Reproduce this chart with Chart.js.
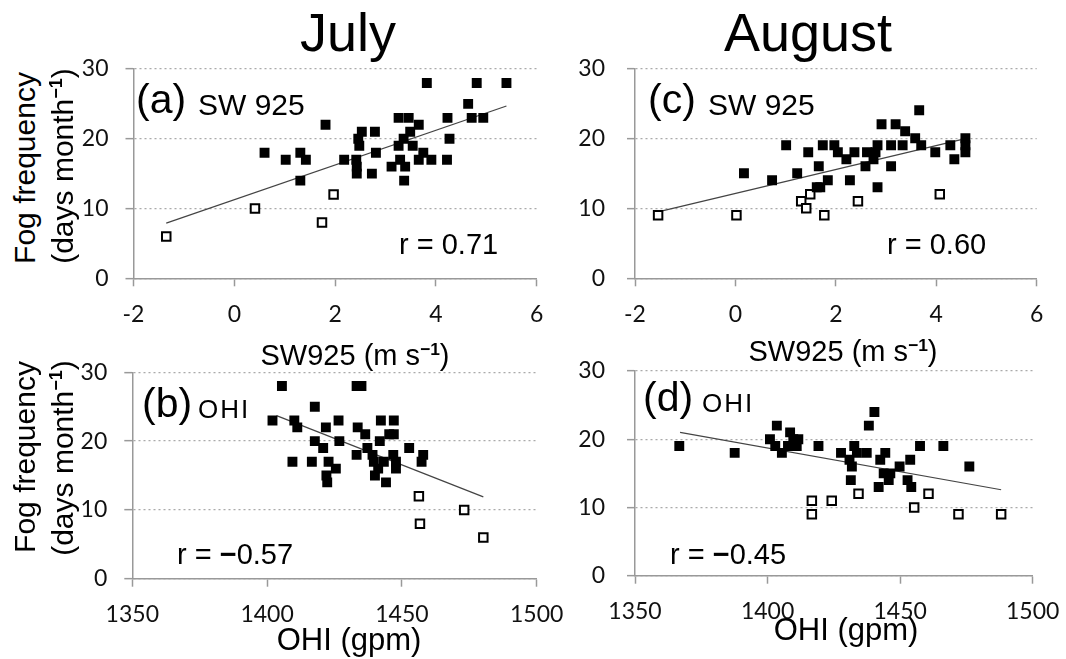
<!DOCTYPE html>
<html>
<head>
<meta charset="utf-8">
<script src="https://cdn.jsdelivr.net/npm/chart.js@4.4.1/dist/chart.umd.min.js"></script>
<style>
    html, body { margin: 0; padding: 0; background: #fff; }
    #page { position: relative; width: 1066px; height: 659px; overflow: hidden; font-family: "Liberation Sans", Arial, sans-serif; color: #000; }
    canvas { position: absolute; }
    .t { position: absolute; white-space: nowrap; line-height: 1; }
    .rot { position: absolute; white-space: nowrap; line-height: 1; transform: translate(-50%, -50%) rotate(-90deg); }
    sup { font-size: 0.6em; line-height: 0; vertical-align: 0.6em; font-weight: bold; }
</style>
</head>
<body>
<div id="page"></div>
<script>
// (a) July, SW925 vs fog days
const aFilledX = [3.82, 4.81, 5.40, 4.64, 4.71, 4.94, 4.23, 4.27, 4.22, 1.81, 0.60, 1.02, 1.31, 1.42, 1.31, 2.18, 2.42, 2.46, 2.53, 2.48, 2.43, 2.43, 2.79, 2.81, 2.73, 3.26, 3.46, 3.66, 3.49, 3.36, 3.26, 3.54, 3.29, 3.12, 3.39, 3.37, 3.66, 3.75, 3.91];
const aFilledY = [28, 28, 28, 25, 23, 23, 23, 20, 17, 22, 18, 17, 18, 17, 14, 17, 17, 20, 21, 19, 16, 15, 21, 18, 15, 23, 23, 22, 21, 20, 19, 19, 17, 16, 16, 14, 17, 18, 17];
const aOpenX = [-1.35, 0.41, 1.74, 1.97];
const aOpenY = [6, 10, 8, 12];
const aTrendX = [-1.35, 5.40];
const aTrendY = [7.9, 24.7];

// (c) August, SW925 vs fog days
const cFilledX = [0.17, 0.73, 1.01, 1.23, 1.45, 1.66, 1.74, 1.62, 1.69, 1.84, 1.97, 2.04, 2.21, 2.37, 2.28, 2.59, 2.62, 2.75, 2.79, 2.83, 2.83, 2.91, 3.10, 3.10, 3.19, 3.33, 3.38, 3.58, 3.66, 3.70, 3.98, 4.28, 4.36, 4.58, 4.58, 4.58];
const cFilledY = [15, 14, 19, 15, 18, 16, 19, 13, 13, 14, 19, 18, 17, 18, 14, 16, 18, 17, 18, 19, 13, 22, 19, 16, 22, 19, 21, 20, 24, 19, 18, 19, 17, 20, 19, 18];
const cOpenX = [-1.54, 0.02, 1.31, 1.41, 1.49, 1.77, 2.44, 4.07];
const cOpenY = [9, 9, 11, 10, 12, 9, 11, 12];
const cTrendX = [-1.54, 4.60];
const cTrendY = [9.5, 20.0];

// (b) July, OHI vs fog days
const bFilledX = [1402.0, 1405.5, 1410.1, 1411.2, 1409.4, 1417.7, 1416.6, 1417.7, 1420.8, 1421.8, 1422.8, 1425.5, 1422.0, 1422.3, 1426.5, 1426.8, 1433.2, 1435.0, 1433.6, 1436.4, 1433.2, 1437.2, 1439.1, 1439.6, 1441.2, 1440.0, 1441.8, 1442.2, 1444.1, 1443.3, 1445.3, 1447.0, 1447.0, 1446.8, 1447.8, 1447.8, 1452.7, 1457.3, 1457.9];
const bFilledY = [23, 28, 23, 22, 17, 25, 17, 20, 19, 22, 17, 16, 15, 14, 23, 20, 28, 28, 22, 21, 18, 19, 18, 17, 16, 15, 20, 23, 14, 17, 21, 23, 21, 18, 16, 17, 19, 17, 18];
const bOpenX = [1456.3, 1456.7, 1473.1, 1480.2];
const bOpenY = [12, 8, 10, 6];
const bTrendX = [1403.5, 1480.2];
const bTrendY = [23.7, 11.9];

// (d) August, OHI vs fog days
const dFilledX = [1366.7, 1387.6, 1400.9, 1403.5, 1402.9, 1405.4, 1408.5, 1409.7, 1411.6, 1411.0, 1407.7, 1419.2, 1427.7, 1430.9, 1431.8, 1431.4, 1432.7, 1433.7, 1437.4, 1438.2, 1440.3, 1441.9, 1442.5, 1444.4, 1443.8, 1445.7, 1446.3, 1449.8, 1452.8, 1453.8, 1454.2, 1457.5, 1466.3, 1476.1];
const dFilledY = [19, 18, 20, 22, 19, 18, 21, 20, 20, 19, 19, 19, 18, 17, 16, 14, 19, 18, 18, 22, 24, 13, 17, 18, 15, 14, 15, 16, 14, 17, 13, 19, 19, 16];
const dOpenX = [1416.7, 1416.7, 1424.2, 1434.3, 1455.3, 1460.7, 1472.0, 1488.1];
const dOpenY = [11, 9, 11, 12, 10, 12, 9, 9];
const dTrendX = [1367.0, 1488.1];
const dTrendY = [21.0, 12.6];

const yTicks = [0, 10, 20, 30];
const swTicks = [-2, 0, 2, 4, 6];
const ohiTicks = [1350, 1400, 1450, 1500];

const page = document.getElementById('page');

function pts(xs, ys) {
    return xs.map((x, i) => ({ x: x, y: ys[i] }));
}

function addText(html, x, base, size, align) {
    const d = document.createElement('div');
    d.className = 't';
    d.innerHTML = html;
    d.style.fontSize = size + 'px';
    d.style.top = (base - 0.8465 * size) + 'px';
    d.style.left = x + 'px';
    if (align === 'center') d.style.transform = 'translateX(-50%)';
    page.appendChild(d);
    return d;
}

function addRot(html, cx, cy, size) {
    const d = document.createElement('div');
    d.className = 'rot';
    d.innerHTML = html;
    d.style.fontSize = size + 'px';
    d.style.left = cx + 'px';
    d.style.top = cy + 'px';
    page.appendChild(d);
}

function makePanel(plot, xTicks, yPad, filled, open, trend) {
    // canvas is larger than the plot so tick labels never push the chart area
    const cl = Math.floor(plot.l) - 75;
    const ct = Math.floor(plot.t) - 45;
    const cw = Math.ceil(plot.r) + 50 - cl;
    const ch = Math.ceil(plot.b) + 75 - ct;
    const cv = document.createElement('canvas');
    cv.width = cw;
    cv.height = ch;
    cv.style.left = cl + 'px';
    cv.style.top = ct + 'px';
    cv.style.width = cw + 'px';
    cv.style.height = ch + 'px';
    page.appendChild(cv);

    const tickFont = { family: 'Lato, "Liberation Sans", sans-serif', size: 23 };

    new Chart(cv.getContext('2d'), {
        type: 'scatter',
        data: {
            datasets: [{
                data: filled,
                pointStyle: 'rect',
                pointRadius: 7,
                backgroundColor: '#000',
                borderColor: '#000',
                borderWidth: 0
            }, {
                data: open,
                pointStyle: 'rect',
                pointRadius: 6,
                backgroundColor: '#fff',
                borderColor: '#000',
                borderWidth: 2
            }, {
                data: trend,
                showLine: true,
                pointRadius: 0,
                borderColor: '#444',
                borderWidth: 1.2
            }]
        },
        options: {
            responsive: false,
            animation: false,
            devicePixelRatio: 1,
            layout: { padding: { top: plot.t - ct, right: cl + cw - plot.r, left: 0, bottom: 0 } },
            plugins: { legend: { display: false }, tooltip: { enabled: false } },
            scales: {
                x: {
                    type: 'linear',
                    min: xTicks[0],
                    max: xTicks[xTicks.length - 1],
                    afterBuildTicks: s => { s.ticks = xTicks.map(v => ({ value: v })); },
                    afterFit: s => { s.height = ct + ch - plot.b; },
                    ticks: { padding: 14, font: tickFont, color: '#111', callback: v => String(v) },
                    grid: { drawOnChartArea: false, drawTicks: true, tickLength: 8, tickColor: '#999', tickWidth: 1.5 },
                    border: { color: '#999', width: 1.5 }
                },
                y: {
                    type: 'linear',
                    min: yTicks[0],
                    max: yTicks[yTicks.length - 1],
                    afterBuildTicks: s => { s.ticks = yTicks.map(v => ({ value: v })); },
                    afterFit: s => { s.width = plot.l - cl; },
                    ticks: { padding: yPad, font: tickFont, color: '#111', callback: v => String(v) },
                    grid: { color: '#aaa', lineWidth: 1.3, tickLength: 8, tickColor: '#999', tickWidth: 1.5, tickBorderDash: [] },
                    border: { color: '#999', width: 1.5, dash: [2, 3] }
                }
            }
        }
    });
}

makePanel({ l: 133.5, r: 536.7, t: 69, b: 278.3 }, swTicks, 17,
    pts(aFilledX, aFilledY), pts(aOpenX, aOpenY), pts(aTrendX, aTrendY));
makePanel({ l: 635, r: 1036.7, t: 68.3, b: 278.3 }, swTicks, 22,
    pts(cFilledX, cFilledY), pts(cOpenX, cOpenY), pts(cTrendX, cTrendY));
makePanel({ l: 132.3, r: 536.7, t: 372.3, b: 578.7 }, ohiTicks, 17,
    pts(bFilledX, bFilledY), pts(bOpenX, bOpenY), pts(bTrendX, bTrendY));
makePanel({ l: 635, r: 1032.7, t: 371, b: 575.7 }, ohiTicks, 22,
    pts(dFilledX, dFilledY), pts(dOpenX, dOpenY), pts(dTrendX, dTrendY));

// column titles
addText('July', 348, 51, 54, 'center');
addText('August', 808, 51, 54, 'center');

// axis titles
addText('SW925 (m s<sup>\u22121</sup>)', 355, 366, 29, 'center');
addText('SW925 (m s<sup>\u22121</sup>)', 843, 362, 29, 'center');
addText('OHI (gpm)', 349, 650, 31, 'center');
addText('OHI (gpm)', 846, 640, 31, 'center');

addRot('Fog frequency', 24.5, 168, 30);
addRot('(days month<sup>\u22121</sup>)', 63, 166, 30);
addRot('Fog frequency', 24.5, 457, 30);
addRot('(days month<sup>\u22121</sup>)', 63, 458, 30);

// panel labels
addText('(a)', 136, 114, 41);
addText('SW 925', 198, 115, 30);
addText('(c)', 648, 114, 41);
addText('SW 925', 708, 115, 30);
addText('(b)', 142, 418, 41);
addText('OHI', 198, 418, 26).style.letterSpacing = '2px';
addText('(d)', 643, 412, 41);
addText('OHI', 702, 412, 26).style.letterSpacing = '2px';

// correlation labels
addText('r = 0.71', 399, 255, 29);
addText('r = 0.60', 887, 255, 29);
addText('r = <b>\u2212</b>0.57', 177, 565, 29);
addText('r = <b>\u2212</b>0.45', 670, 565, 29);
</script>
</body>
</html>
